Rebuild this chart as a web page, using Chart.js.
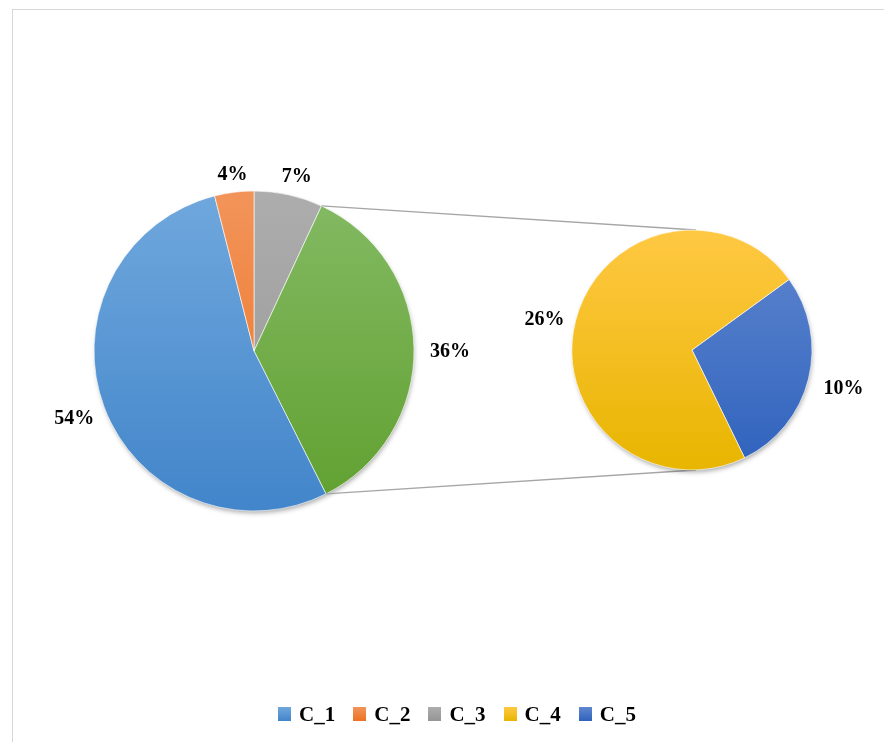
<!DOCTYPE html>
<html>
<head>
<meta charset="utf-8">
<script src="https://cdn.jsdelivr.net/npm/chart.js@4.4.0/dist/chart.umd.min.js"></script>
<style>
  html, body { margin: 0; padding: 0; background: #fff; overflow: hidden; }
  #wrap { position: relative; width: 884px; height: 742px; overflow: hidden; background: #fff; }
  #frame { position: absolute; left: 12px; top: 9px; width: 940px; height: 800px;
           border: 1.5px solid #d6d6d6; box-sizing: border-box; }
  canvas { position: absolute; left: 0; top: 0; }
  #pieB { pointer-events: none; }
  #legend { position: absolute; left: 0; top: 701px; width: 914px; height: 26px;
            display: flex; justify-content: center; align-items: center;
            font: bold 21px 'Palatino Linotype', 'Book Antiqua', Palatino, 'Liberation Serif', serif; color: #000; }
  .item { display: flex; align-items: center; margin: 0 9px; }
  .box { width: 13px; height: 14px; margin-right: 8px; }
</style>
</head>
<body>
<div id="wrap">
  <div id="frame"></div>
  <canvas id="pieA" width="884" height="742"></canvas>
  <canvas id="pieB" width="884" height="742"></canvas>
  <div id="legend"></div>
</div>
<script>
// ---- data ----
const categories = ['C_1', 'C_2', 'C_3', 'C_4', 'C_5'];
const shares = [54, 4, 7, 26, 10];          // % of total
const mainOrder = [2, -1, 0, 1];            // C_3, Other (C_4 + C_5), C_1, C_2
const splitOrder = [4, 3];                  // C_5, C_4 in the second pie

// ---- styles ----
const topColors = ['#70a8dd', '#f2945a', '#adadad', '#ffc843', '#6087cf'];
const bottomColors = ['#4285ca', '#ec7220', '#959595', '#e8b500', '#2f62bd'];
const otherTop = '#84ba64';
const otherBottom = '#60a02f';
const LABEL_FONT = "'Palatino Linotype', 'Book Antiqua', Palatino, 'Liberation Serif', serif";

const otherValue = shares[3] + shares[4];
const mainData = mainOrder.map(i => i < 0 ? otherValue : shares[i]);
const mainTops = mainOrder.map(i => i < 0 ? otherTop : topColors[i]);
const mainBottoms = mainOrder.map(i => i < 0 ? otherBottom : bottomColors[i]);
const splitData = splitOrder.map(i => shares[i]);
const splitTops = splitOrder.map(i => topColors[i]);
const splitBottoms = splitOrder.map(i => bottomColors[i]);

// vertical gradient across the pie, lighter at the top
function sliceGradient(tops, bottoms, radius) {
  return (c) => {
    const area = c.chart.chartArea;
    if (!area) return tops[c.dataIndex];
    const cy = (area.top + area.bottom) / 2;
    const g = c.chart.ctx.createLinearGradient(0, cy - radius, 0, cy + radius);
    g.addColorStop(0, tops[c.dataIndex]);
    g.addColorStop(1, bottoms[c.dataIndex]);
    return g;
  };
}

// soft shadow under the whole pie
const pieShadow = {
  id: 'pieShadow',
  beforeDatasetsDraw(chart) {
    const arc = chart.getDatasetMeta(0).data[0];
    if (!arc) return;
    const p = arc.getProps(['x', 'y', 'outerRadius'], true);
    const ctx = chart.ctx;
    ctx.save();
    ctx.shadowColor = 'rgba(0,0,0,0.35)';
    ctx.shadowBlur = 5;
    ctx.shadowOffsetX = 1;
    ctx.shadowOffsetY = 3;
    ctx.fillStyle = '#fff';
    ctx.beginPath();
    ctx.arc(p.x, p.y, p.outerRadius - 1, 0, Math.PI * 2);
    ctx.fill();
    ctx.restore();
  }
};

// percentage labels outside each slice
const sliceLabels = {
  id: 'sliceLabels',
  afterDatasetsDraw(chart) {
    const ctx = chart.ctx;
    const values = chart.data.datasets[0].data;
    ctx.save();
    ctx.font = 'bold 20px ' + LABEL_FONT;
    ctx.fillStyle = '#000';
    ctx.textAlign = 'center';
    ctx.textBaseline = 'middle';
    chart.getDatasetMeta(0).data.forEach((arc, i) => {
      const p = arc.getProps(['x', 'y', 'startAngle', 'endAngle', 'outerRadius'], true);
      const a = (p.startAngle + p.endAngle) / 2;
      const dx = Math.cos(a), dy = Math.sin(a);
      const txt = values[i] + '%';
      const w = ctx.measureText(txt).width, h = 16;
      const r = p.outerRadius + 14;
      ctx.fillText(txt, p.x + dx * (r + w / 2) + 2, p.y + dy * (r + h / 2) + 4);
    });
    ctx.restore();
  }
};

function pieOptions(padding, radius, rotation) {
  return {
    responsive: false,
    animation: false,
    radius: radius,
    rotation: rotation,
    layout: { padding: padding },
    plugins: {
      legend: { display: false },
      tooltip: { enabled: false }
    }
  };
}

const mainChart = new Chart(document.getElementById('pieA'), {
  type: 'pie',
  data: {
    labels: mainOrder.map(i => i < 0 ? 'Other' : categories[i]),
    datasets: [{
      data: mainData,
      backgroundColor: sliceGradient(mainTops, mainBottoms, 160),
      borderColor: 'rgba(255,255,255,0.6)',
      borderWidth: 1
    }]
  },
  options: pieOptions({ left: 0, right: 376, top: 0, bottom: 40 }, 160, 0),
  plugins: [pieShadow, sliceLabels]
});

// lines from the "Other" slice to the second pie
const connectors = {
  id: 'connectors',
  beforeDatasetsDraw(chart) {
    const other = mainChart.getDatasetMeta(0).data[mainOrder.indexOf(-1)];
    const small = chart.getDatasetMeta(0).data[0];
    if (!other || !small) return;
    const o = other.getProps(['x', 'y', 'startAngle', 'endAngle', 'outerRadius'], true);
    const s = small.getProps(['x', 'y', 'outerRadius'], true);
    const ctx = chart.ctx;
    ctx.save();
    ctx.strokeStyle = '#a6a6a6';
    ctx.lineWidth = 1.3;
    ctx.beginPath();
    ctx.moveTo(o.x + o.outerRadius * Math.cos(o.startAngle), o.y + o.outerRadius * Math.sin(o.startAngle));
    ctx.lineTo(s.x + 4, s.y - s.outerRadius);
    ctx.moveTo(o.x + o.outerRadius * Math.cos(o.endAngle), o.y + o.outerRadius * Math.sin(o.endAngle));
    ctx.lineTo(s.x + 4, s.y + s.outerRadius);
    ctx.stroke();
    ctx.restore();
  }
};

const splitChart = new Chart(document.getElementById('pieB'), {
  type: 'pie',
  data: {
    labels: splitOrder.map(i => categories[i]),
    datasets: [{
      data: splitData,
      backgroundColor: sliceGradient(splitTops, splitBottoms, 120),
      borderColor: 'rgba(255,255,255,0.6)',
      borderWidth: 1
    }]
  },
  options: pieOptions({ left: 500, right: 0, top: 0, bottom: 42 }, 120, 54),
  plugins: [connectors, pieShadow, sliceLabels]
});

// legend
const legend = document.getElementById('legend');
categories.forEach((name, i) => {
  const item = document.createElement('div');
  item.className = 'item';
  const box = document.createElement('div');
  box.className = 'box';
  box.style.background = 'linear-gradient(' + topColors[i] + ', ' + bottomColors[i] + ')';
  const label = document.createElement('span');
  label.textContent = name;
  item.appendChild(box);
  item.appendChild(label);
  legend.appendChild(item);
});
</script>
</body>
</html>
